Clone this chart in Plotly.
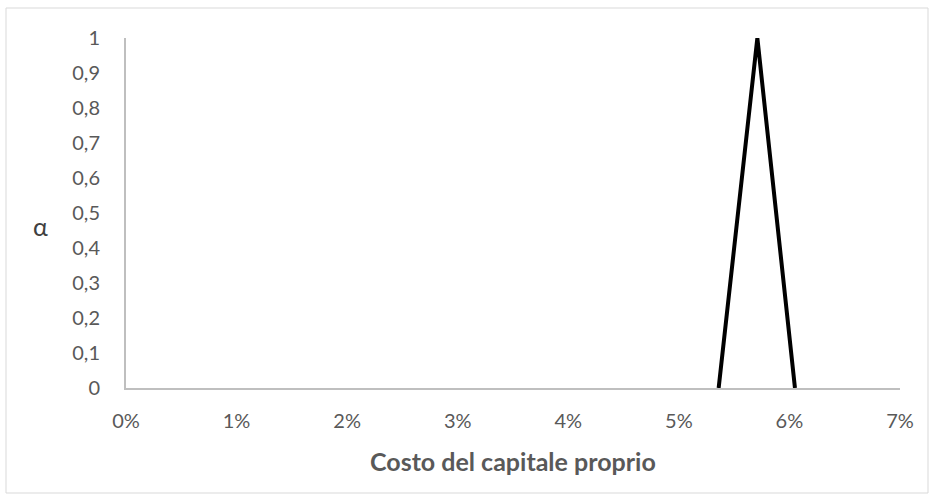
import plotly.graph_objects as go

# Data
x_values = [0.0536, 0.0571, 0.0605]
alpha_values = [0, 1, 0]
x_ticks = [0, 0.01, 0.02, 0.03, 0.04, 0.05, 0.06, 0.07]
y_ticks = [0, 0.1, 0.2, 0.3, 0.4, 0.5, 0.6, 0.7, 0.8, 0.9, 1]

W, H = 934, 502
L, R, T, B = 126, 34, 38, 114
pw, ph = W - L - R, H - T - B

def px_x(p):
    return (p - L) / pw

def px_y(p):
    return (H - B - p) / ph

fig = go.Figure()
fig.add_trace(go.Scatter(
    x=x_values, y=alpha_values, mode="lines",
    line=dict(color="black", width=4), showlegend=False, cliponaxis=False,
))

font = "Lato, Carlito, 'Open Sans', sans-serif"
fig.update_layout(
    width=W, height=H,
    margin=dict(l=L, r=R, t=T, b=B),
    paper_bgcolor="white", plot_bgcolor="white",
    separators=",.",
    font=dict(family=font, color="#595959", size=20),
    xaxis=dict(range=[0, 0.07], tickvals=x_ticks, tickformat=".0%",
               showgrid=False, zeroline=False, showline=True,
               linecolor="#bfbfbf", linewidth=2, ticks="",
               ticklabelstandoff=14, tickfont=dict(size=20, color="#595959")),
    yaxis=dict(range=[0, 1], tickvals=y_ticks, showgrid=False, zeroline=False,
               showline=True, linecolor="#bfbfbf", linewidth=2, ticks="",
               ticklabelstandoff=20, tickfont=dict(size=20, color="#595959")),
    shapes=[dict(type="rect", xref="paper", yref="paper",
                 x0=px_x(6), x1=px_x(928), y0=px_y(493), y1=px_y(8),
                 line=dict(color="#d9d9d9", width=1), layer="below")],
    annotations=[
        dict(text="<b>Costo del capitale proprio</b>", xref="paper", yref="paper",
             x=px_x(513), y=px_y(461), xanchor="center", yanchor="middle",
             showarrow=False, font=dict(size=25, color="#595959", family=font)),
        dict(text="α", xref="paper", yref="paper", x=px_x(40), y=px_y(226),
             xanchor="center", yanchor="middle",
             showarrow=False, font=dict(size=25, color="#404040", family=font)),
    ],
)

fig.write_html("out.html", config={"displayModeBar": False},
               post_script="document.body.style.margin='0';")
